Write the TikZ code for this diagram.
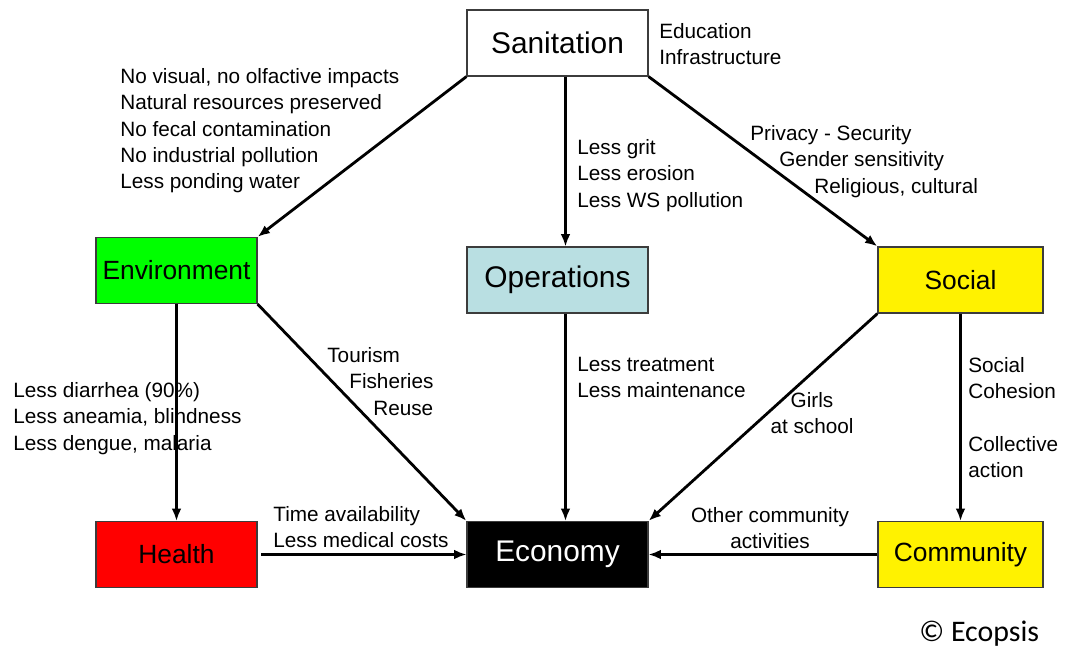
\documentclass[tikz,border=0pt]{standalone}
\usepackage{fontspec}
\setmainfont{Liberation Sans}
\newfontfamily\ecofont{Carlito}
\usetikzlibrary{arrows.meta,calc}

\definecolor{opsblue}{RGB}{185,223,226}
\definecolor{boxline}{RGB}{60,60,60}

\begin{document}
\begin{tikzpicture}[x=0.02cm,y=-0.02cm,
    box/.style={draw=boxline,line width=0.7pt,minimum height=1.32cm,inner sep=0pt,font=\fontsize{15}{18}\selectfont},
    bigbox/.style={box,font=\fontsize{17}{20}\selectfont},
    note/.style={anchor=north west,inner sep=0pt,align=left,font=\fontsize{11.8}{15}\selectfont},
    link/.style={line width=1.2pt,-{Latex[length=7pt,width=5.5pt]}},
    diag/.style={link,line width=1.6pt}]
                \useasboundingbox (0,0) rectangle (1072,648);
                \node[bigbox,minimum width=3.62cm] (san) at (557.5,43) {Sanitation};
                \node[box,fill=green,minimum width=3.22cm] (env) at (176.5,270.5) {Environment};
                \node[bigbox,fill=opsblue,minimum width=3.62cm] (ops) at (557.5,280) {Operations};
                \node[box,fill=yellow,minimum width=3.3cm] (soc) at (960.5,280) {Social};
                \node[box,fill=red,minimum width=3.22cm] (hea) at (176.5,554.5) {Health};
                \node[bigbox,fill=black,text=white,minimum width=3.62cm] (eco) at (557.5,554.5) {Economy};
                \node[box,fill=yellow,minimum width=3.3cm] (com) at (960.5,554.5) {Community};
                \node[note] (edu) at (659,23) {Education\\Infrastructure};
                \node[note] (envnotes) at (120,68) {No visual, no olfactive impacts\\Natural resources preserved\\No fecal contamination\\No industrial pollution\\Less ponding water};
                \node[note] (opsnotes) at (577,139) {Less grit\\Less erosion\\Less WS pollution};
                \node[note] (socnotes) at (750,125) {Privacy - Security\\\hspace*{0.58cm}Gender sensitivity\\\hspace*{1.28cm}Religious, cultural};
                \node[note] (tour) at (327,347) {Tourism\\\hspace*{0.44cm}Fisheries\\\hspace*{0.92cm}Reuse};
                \node[note] (heanotes) at (13,382) {Less diarrhea (90\%)\\Less aneamia, blindness\\Less dengue, malaria};
                \node[note] (treat) at (577,357) {Less treatment\\Less maintenance};
                \node[note,anchor=north,align=center] (girls) at (812,392) {Girls\\at school};
                \node[note] (cohesion) at (968,357) {Social\\Cohesion\\[15pt]Collective\\action};
                \node[note] (time) at (273,506) {Time availability\\Less medical costs};
                \node[note,anchor=north,align=center] (other) at (770,507) {Other community\\activities};
                \node[anchor=base west,inner sep=0pt,font=\ecofont\fontsize{17}{20}\selectfont] (copy) at (919,641) {© Ecopsis};
                \draw[diag] (san.south west) -- (env.north east);
                \draw[link] ([xshift=0.16cm]san.south) -- ([xshift=0.16cm]ops.north);
                \draw[diag] (san.south east) -- (soc.north west);
                \draw[link] (env.south) -- (hea.north);
                \draw[diag] (env.south east) -- (eco.north west);
                \draw[link] ([xshift=0.16cm]ops.south) -- ([xshift=0.16cm]eco.north);
                \draw[diag] (soc.south west) -- (eco.north east);
                \draw[link] (soc.south) -- (com.north);
                \draw[link] ([xshift=0.07cm]hea.east) -- (eco.west);
                \draw[link] (com.west) -- (eco.east);
            \end{tikzpicture}
\end{document}
